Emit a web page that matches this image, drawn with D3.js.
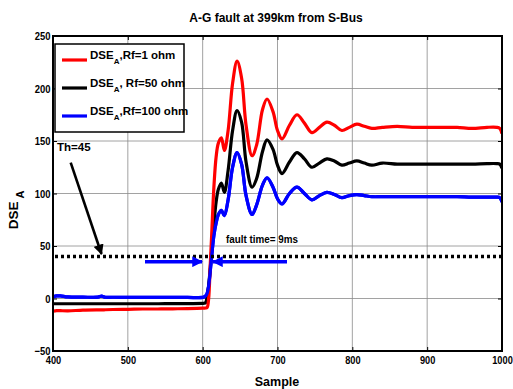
<!DOCTYPE html>
<html>
<head>
<meta charset="utf-8">
<script src="https://cdn.jsdelivr.net/npm/d3@7"></script>
<style>
  body { margin: 0; background: #fff; }
  svg { font-family: "Liberation Sans", Arial, sans-serif; }
  .tick text { font-weight: bold; font-size: 11px; }
</style>
</head>
<body>
<div id="chart"></div>
<script>
// Donnees
const xTicks = [400, 500, 600, 700, 800, 900, 1000];
const yTicks = [-50, 0, 50, 100, 150, 200, 250];
const seriesNames = ["Rf=1 ohm", "Rf=50 ohm", "Rf=100 ohm"];
const seriesColors = ["#ff0000", "#000000", "#0000ff"];
const thresholdValue = 40;

const samples = [400, 405, 410, 420, 440, 460, 465, 470, 480, 500, 520, 540, 560, 580, 600, 602,
  604, 606, 608, 610, 612, 615, 618, 621, 625, 629, 634, 640, 646, 652, 658, 666, 672, 680, 686,
  694, 700, 706, 716, 726, 736, 746, 756, 766, 776, 786, 796, 806, 816, 826, 840, 860, 880, 900,
  920, 940, 960, 980, 993, 997, 1000];

const red = [-12, -11.5, -11.6, -11.8, -11, -10.8, -10.8, -10.7, -10.5, -10.3, -10, -10, -9.8, -9.6, -9.2, -9.1,
  -9, -8.5, 0, 30, 60, 106, 135, 148, 153, 141, 160, 205, 226, 210, 165, 136, 146, 180, 190,
  178, 160, 152, 165, 175, 167, 158, 163, 168, 165, 160, 163, 166, 164, 162, 163, 164, 163, 163,
  163, 163, 162, 163, 163, 162, 157];

const black = [-5, -5, -5, -5, -5, -5, -5, -5, -5, -5, -5, -5, -4.8, -4.8, -4.6, -4.5,
  -4, 2, 12, 28, 45, 70, 92, 104, 110, 101, 122, 160, 179, 168, 130, 106, 114, 140, 151,
  142, 127, 119, 130, 139, 133, 125, 129, 133, 131, 127, 129, 131, 129, 127, 129, 128, 128, 128,
  128, 128, 128, 128.5, 128.5, 128, 124];

const blue = [1.5, 2.5, 2.5, 1.5, 1.3, 1.3, 2.2, 1.2, 1.2, 1.1, 1, 1, 1, 1, 1, 1.5,
  2.5, 5, 12, 25, 40, 60, 72, 80, 84, 79, 94, 125, 139, 128, 98, 80, 89, 108, 115,
  106, 95, 90, 100, 106, 100, 94, 98, 101, 99, 96, 98, 99, 98, 97, 97, 97, 97, 97,
  97, 97, 96.5, 96.5, 96.5, 96, 92];

const allSeries = [red, black, blue];

// Dimensions
const W = 513, H = 389;
const plot = {left: 53, right: 502, top: 36, bottom: 351};

const svg = d3.select("#chart").append("svg")
  .attr("width", W).attr("height", H);

const x = d3.scaleLinear().domain([400, 1000]).range([plot.left, plot.right]);
const y = d3.scaleLinear().domain([-50, 250]).range([plot.bottom, plot.top]);

// Grille
svg.append("g")
  .selectAll("line.gx")
  .data(xTicks.slice(1, -1))
  .enter().append("line")
  .attr("x1", d => x(d)).attr("x2", d => x(d))
  .attr("y1", plot.top).attr("y2", plot.bottom)
  .attr("stroke", "#8a8a8a").attr("stroke-width", 0.8);

svg.append("g")
  .selectAll("line.gy")
  .data(yTicks.slice(1, -1))
  .enter().append("line")
  .attr("x1", plot.left).attr("x2", plot.right)
  .attr("y1", d => y(d)).attr("y2", d => y(d))
  .attr("stroke", "#8a8a8a").attr("stroke-width", 0.8);

// Axes
const fmt = d3.format("d");
const xAxis = svg.append("g")
  .attr("transform", `translate(0,${plot.bottom})`)
  .call(d3.axisBottom(x).tickValues(xTicks).tickFormat(fmt).tickSizeInner(-4).tickSizeOuter(0).tickPadding(5));
const yAxis = svg.append("g")
  .attr("transform", `translate(${plot.left},0)`)
  .call(d3.axisLeft(y).tickValues(yTicks).tickFormat(fmt).tickSizeInner(-4).tickSizeOuter(0).tickPadding(3));
svg.append("g")
  .attr("transform", `translate(0,${plot.top})`)
  .call(d3.axisTop(x).tickValues(xTicks).tickSizeInner(-4).tickSizeOuter(0).tickFormat(""));
svg.append("g")
  .attr("transform", `translate(${plot.right},0)`)
  .call(d3.axisRight(y).tickValues(yTicks).tickSizeInner(-4).tickSizeOuter(0).tickFormat(""));
svg.selectAll(".domain").remove();
svg.selectAll(".tick line").attr("stroke", "#000");
// police etroite comme l'original
xAxis.selectAll("text").attr("fill", "#000").attr("transform", "scale(0.84,1)");
yAxis.selectAll("text").attr("fill", "#000").attr("transform", "scale(0.86,1)");

// Courbes
const line = d3.line()
  .x((d, i) => x(samples[i]))
  .y(d => y(d))
  .curve(d3.curveCatmullRom.alpha(0.5));

svg.append("defs").append("clipPath").attr("id", "clip")
  .append("rect").attr("x", plot.left).attr("y", plot.top)
  .attr("width", plot.right - plot.left).attr("height", plot.bottom - plot.top);

const curves = svg.append("g").attr("clip-path", "url(#clip)");
[blue, black, red, blue].forEach((s) => {
  const idx = allSeries.indexOf(s);
  curves.append("path")
    .datum(s)
    .attr("fill", "none")
    .attr("stroke", seriesColors[idx])
    .attr("stroke-width", 3.2)
    .attr("stroke-linejoin", "round")
    .attr("d", line);
});

// Seuil
svg.append("line")
  .attr("x1", plot.left + 2).attr("x2", plot.right)
  .attr("y1", y(thresholdValue)).attr("y2", y(thresholdValue))
  .attr("stroke", "#000").attr("stroke-width", 3.5)
  .attr("stroke-dasharray", "3,3");

// Fleches
const defs = svg.select("defs");
defs.append("marker").attr("id", "arrBlack")
  .attr("viewBox", "0 0 10 10").attr("refX", 9).attr("refY", 5)
  .attr("markerWidth", 4).attr("markerHeight", 4).attr("orient", "auto")
  .append("path").attr("d", "M0,0L10,5L0,10Z").attr("fill", "#000");
defs.append("marker").attr("id", "arrBlue")
  .attr("viewBox", "0 0 10 10").attr("refX", 9).attr("refY", 5)
  .attr("markerWidth", 3).attr("markerHeight", 3).attr("orient", "auto")
  .append("path").attr("d", "M0,0L10,5L0,10Z").attr("fill", "#0000ff");

svg.append("text")
  .attr("x", 57).attr("y", 151)
  .attr("font-size", "11.5px").attr("font-weight", "bold")
  .text("Th=45");
svg.append("line")
  .attr("x1", 70.7).attr("y1", 162.7).attr("x2", 101.5).attr("y2", 254)
  .attr("stroke", "#000").attr("stroke-width", 2.6)
  .attr("marker-end", "url(#arrBlack)");

svg.append("text")
  .attr("x", 226).attr("y", 243)
  .attr("font-size", "11.5px").attr("font-weight", "bold")
  .attr("textLength", 72).attr("lengthAdjust", "spacingAndGlyphs")
  .text("fault time= 9ms");
svg.append("line")
  .attr("x1", 145).attr("y1", 261.7).attr("x2", 202).attr("y2", 261.7)
  .attr("stroke", "#0000ff").attr("stroke-width", 3.6)
  .attr("marker-end", "url(#arrBlue)");
svg.append("line")
  .attr("x1", 287).attr("y1", 261.7).attr("x2", 213).attr("y2", 261.7)
  .attr("stroke", "#0000ff").attr("stroke-width", 3.6)
  .attr("marker-end", "url(#arrBlue)");

// Cadre
svg.append("rect")
  .attr("x", plot.left).attr("y", plot.top)
  .attr("width", plot.right - plot.left).attr("height", plot.bottom - plot.top)
  .attr("fill", "none").attr("stroke", "#000").attr("stroke-width", 2);

// Legende
const legend = svg.append("g");
legend.append("rect")
  .attr("x", 55).attr("y", 44).attr("width", 129).attr("height", 88)
  .attr("fill", "#fff").attr("stroke", "#000").attr("stroke-width", 1.5);
const legendY = [60, 88, 116];
seriesNames.forEach((name, i) => {
  legend.append("line")
    .attr("x1", 62).attr("x2", 87)
    .attr("y1", legendY[i]).attr("y2", legendY[i])
    .attr("stroke", seriesColors[i]).attr("stroke-width", 3.2);
  const t = legend.append("text")
    .attr("x", 90).attr("y", legendY[i] - 1)
    .attr("font-size", "11.5px").attr("font-weight", "bold");
  t.append("tspan").text("DSE");
  t.append("tspan").attr("dy", 5).attr("font-size", "8px").text("A");
  t.append("tspan").attr("dy", -5).text(i === 1 ? ", " + name : "," + name);
});

// Titre et libelles
svg.append("text")
  .attr("x", 276).attr("y", 22)
  .attr("text-anchor", "middle")
  .attr("font-size", "12px").attr("font-weight", "bold")
  .text("A-G fault at 399km from S-Bus");

svg.append("text")
  .attr("x", 277).attr("y", 386)
  .attr("text-anchor", "middle")
  .attr("font-size", "12.5px").attr("font-weight", "bold")
  .text("Sample");

const yl = svg.append("text")
  .attr("transform", "translate(18,210) rotate(-90)")
  .attr("text-anchor", "middle")
  .attr("font-size", "13.5px").attr("font-weight", "bold");
yl.append("tspan").text("DSE");
yl.append("tspan").attr("dy", 6).attr("dx", 3).attr("font-size", "11px").text("A");
</script>
</body>
</html>
